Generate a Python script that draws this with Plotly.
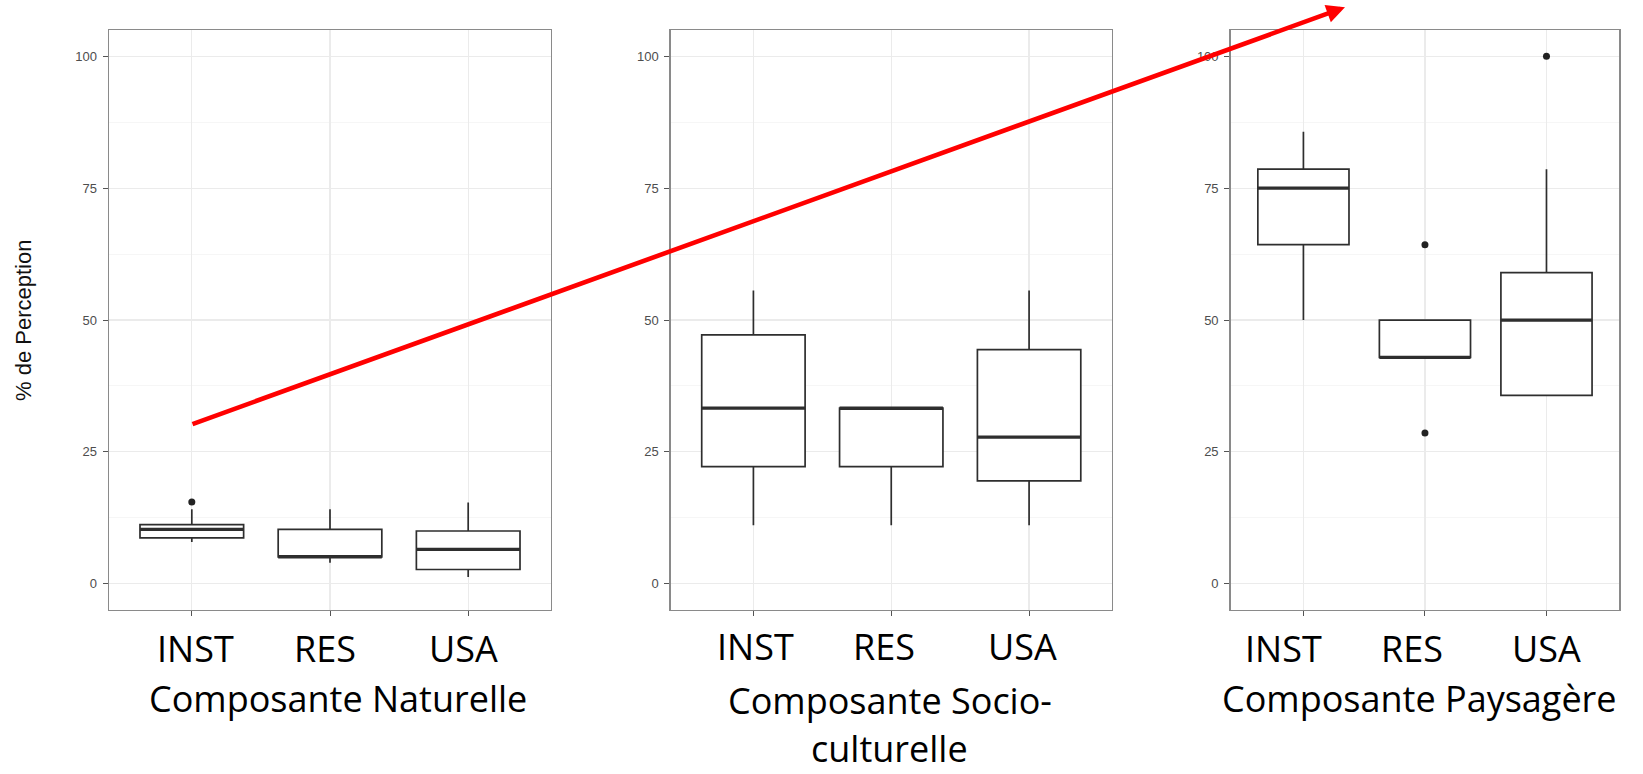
import plotly.graph_objects as go

# ---------------- data ----------------
categories = ["INST", "RES", "USA"]
panel_titles = [["Composante Naturelle"], ["Composante Socio-", "culturelle"], ["Composante Paysagère"]]
y_title = "% de Perception"
y_ticks = [0, 25, 50, 75, 100]

nat_q1 = [8.7, 5.1, 2.7]
nat_median = [10.3, 5.1, 6.5]
nat_q3 = [11.2, 10.3, 10.0]
nat_low = [7.9, 4.0, 1.3]
nat_high = [14.1, 14.1, 15.4]
nat_out_x = ["INST"]
nat_out_y = [15.5]

soc_q1 = [22.2, 22.2, 19.5]
soc_median = [33.3, 33.3, 27.8]
soc_q3 = [47.2, 33.3, 44.4]
soc_low = [11.1, 11.1, 11.1]
soc_high = [55.6, 33.3, 55.6]
soc_out_x = []
soc_out_y = []

pay_q1 = [64.3, 42.9, 35.7]
pay_median = [75.0, 42.9, 50.0]
pay_q3 = [78.6, 50.0, 59.0]
pay_low = [50.0, 42.9, 35.7]
pay_high = [85.7, 50.0, 78.6]
pay_out_x = ["RES", "RES", "USA"]
pay_out_y = [64.3, 28.6, 100.0]

panels = [
    (nat_q1, nat_median, nat_q3, nat_low, nat_high, nat_out_x, nat_out_y),
    (soc_q1, soc_median, soc_q3, soc_low, soc_high, soc_out_x, soc_out_y),
    (pay_q1, pay_median, pay_q3, pay_low, pay_high, pay_out_x, pay_out_y),
]

# ---------------- layout geometry (pixels of a 1643x774 page) ----------------
W, H = 1643, 774
x_domains_px = [(108.9, 551.1), (670.7, 1111.8), (1230.5, 1619.4)]
y_domain_px = (30.0, 610.1)

BOX_LINE = "#2e2e2e"
fig = go.Figure()

for i, (q1, med, q3, lo, hi, ox, oy) in enumerate(panels):
    xa = "x" if i == 0 else f"x{i+1}"
    ya = "y" if i == 0 else f"y{i+1}"
    fig.add_trace(go.Box(
        x=categories, q1=q1, median=med, q3=q3, lowerfence=lo, upperfence=hi,
        xaxis=xa, yaxis=ya, width=0.75, whiskerwidth=0,
        fillcolor="white", line=dict(color=BOX_LINE, width=1.7),
        boxpoints=False, showlegend=False, hoverinfo="skip",
    ))
    # thick median line (ggplot fatten) drawn as a flat box at the median
    fig.add_trace(go.Box(
        x=categories, q1=med, median=med, q3=med, lowerfence=med, upperfence=med,
        xaxis=xa, yaxis=ya, width=0.75, whiskerwidth=0,
        fillcolor="rgba(0,0,0,0)", line=dict(color=BOX_LINE, width=3.2),
        boxpoints=False, showlegend=False, hoverinfo="skip",
    ))
    if ox:
        fig.add_trace(go.Scatter(
            x=ox, y=oy, xaxis=xa, yaxis=ya, mode="markers",
            marker=dict(color="#222222", size=7), showlegend=False, hoverinfo="skip",
        ))

layout = dict(
    width=W, height=H,
    margin=dict(l=0, r=0, t=0, b=0),
    paper_bgcolor="white", plot_bgcolor="white",
    boxmode="overlay", showlegend=False,
)

for i, (x0, x1) in enumerate(x_domains_px):
    sfx = "" if i == 0 else str(i + 1)
    layout["xaxis" + sfx] = dict(
        domain=[x0 / W, x1 / W], anchor="y" + sfx,
        type="category", categoryorder="array", categoryarray=categories,
        range=[-0.6, 2.6], showticklabels=False,
        ticks="outside", ticklen=5, tickcolor="#555555", tickwidth=1,
        showgrid=True, gridcolor="#ebebeb", gridwidth=1.2,
        showline=True, mirror=True, linecolor="#8a8a8a", linewidth=1.3,
        zeroline=False, fixedrange=True,
    )
    layout["yaxis" + sfx] = dict(
        domain=[1 - y_domain_px[1] / H, 1 - y_domain_px[0] / H], anchor="x" + sfx,
        range=[-5, 105], tickmode="array", tickvals=y_ticks,
        ticks="outside", ticklen=5, tickcolor="#555555", tickwidth=1,
        ticklabelstandoff=3,
        tickfont=dict(family="Liberation Sans, Arial", size=13, color="#4d4d4d"),
        showgrid=True, gridcolor="#ebebeb", gridwidth=1.2,
        minor=dict(dtick=12.5, tick0=0, showgrid=True, gridcolor="#f4f4f4", gridwidth=0.8, ticks=""),
        showline=True, mirror=True, linecolor="#8a8a8a", linewidth=1.3,
        zeroline=False, fixedrange=True,
    )

fig.update_layout(**layout)

annotations = []
# y-axis title
annotations.append(dict(
    text=y_title, xref="paper", yref="paper", x=23 / W, y=1 - 321 / H,
    xanchor="center", yanchor="middle", textangle=-90, showarrow=False,
    font=dict(family="Liberation Sans, Arial", size=22, color="#111111"),
))

# category labels (slide text boxes under each panel)
label_shifts = [[4, -5, -5], [2, -7, -6.5], [-20, -13, 0]]
label_y_px = [648.8, 646.7, 648.0]
LABEL_FONT = dict(family="Open Sans", size=36, color="black")
for i in range(3):
    xa = "x" if i == 0 else f"x{i+1}"
    for j, c in enumerate(categories):
        annotations.append(dict(
            text=c, xref=xa, yref="paper", x=c, y=1 - label_y_px[i] / H,
            xshift=label_shifts[i][j], xanchor="center", yanchor="middle",
            showarrow=False, font=LABEL_FONT,
        ))

# panel titles (one text line per annotation)
title_x_px = [337.5, 889.5, 1419.0]
title_y_px = [698.3, 700.5, 698.3]
for lines, px, py in zip(panel_titles, title_x_px, title_y_px):
    for k, line in enumerate(lines):
        if k == 0:
            annotations.append(dict(
                text=line, xref="paper", yref="paper", x=px / W, y=1 - py / H,
                xanchor="center", yanchor="middle", showarrow=False, font=LABEL_FONT,
            ))
        else:
            annotations.append(dict(
                text=line, xref="paper", yref="paper", x=px / W, y=0,
                xanchor="center", yanchor="bottom", showarrow=False, font=LABEL_FONT,
                borderpad=0,
            ))

# red arrow across the panels
tip = (1345.0, 7.3)
tail = (191.0, 424.6)
annotations.append(dict(
    text="", xref="paper", yref="paper", x=tip[0] / W, y=1 - tip[1] / H,
    ax=tail[0] - tip[0], ay=tail[1] - tip[1], axref="pixel", ayref="pixel",
    showarrow=True, arrowhead=2, arrowsize=0.8, arrowwidth=4.6, arrowcolor="#ff0000",
))

fig.update_layout(annotations=annotations)
fig.write_html(
    "out.html",
    config={"displayModeBar": False, "staticPlot": True},
    post_script="document.body.style.margin='0';document.body.style.overflow='hidden';",
)
